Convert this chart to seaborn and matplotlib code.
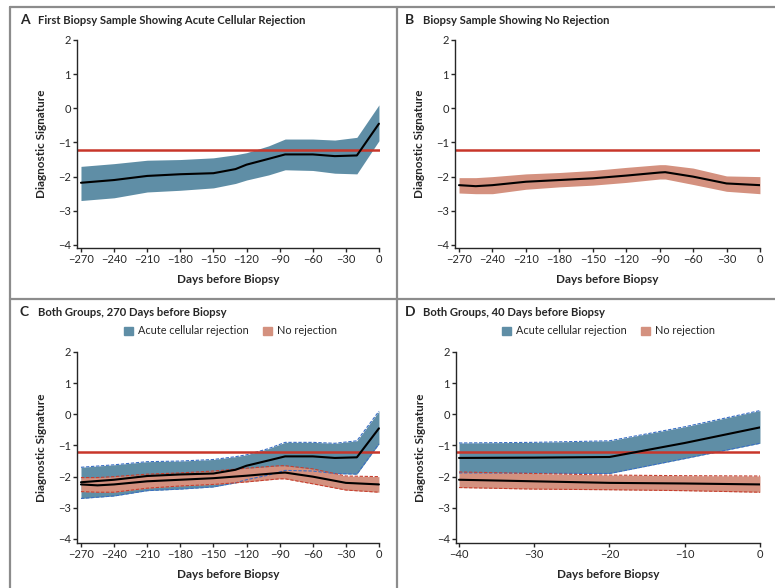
import matplotlib
matplotlib.use("Agg")
import matplotlib.pyplot as plt
from matplotlib.lines import Line2D
from matplotlib.patches import Patch
import seaborn as sns
import pandas as pd

# --- data ---
THRESHOLD = -1.22

# A: acute cellular rejection, 270 days
acr_days = [-270, -240, -210, -180, -150, -130, -120, -100, -85, -60, -40, -20, 0]
acr_mean = [-2.18, -2.10, -1.98, -1.93, -1.90, -1.78, -1.65, -1.48, -1.35, -1.35, -1.40, -1.38, -0.45]
acr_upper = [-1.70, -1.62, -1.52, -1.50, -1.45, -1.36, -1.30, -1.10, -0.90, -0.90, -0.93, -0.85, 0.10]
acr_lower = [-2.70, -2.62, -2.45, -2.40, -2.33, -2.20, -2.10, -1.95, -1.80, -1.82, -1.90, -1.92, -0.95]

# B: no rejection, 270 days
nr_days = [-270, -255, -240, -210, -180, -150, -120, -90, -85, -60, -30, 0]
nr_mean = [-2.25, -2.28, -2.25, -2.15, -2.10, -2.05, -1.97, -1.88, -1.87, -2.00, -2.20, -2.25]
nr_upper = [-2.03, -2.03, -2.00, -1.92, -1.88, -1.82, -1.73, -1.65, -1.65, -1.75, -1.98, -2.00]
nr_lower = [-2.48, -2.50, -2.50, -2.37, -2.30, -2.25, -2.17, -2.07, -2.07, -2.23, -2.43, -2.50]

# D: both groups, 40 days
d_days = [-40, -30, -20, -10, 0]
d_acr_mean = [-1.40, -1.39, -1.37, -0.92, -0.42]
d_acr_upper = [-0.92, -0.90, -0.85, -0.40, 0.12]
d_acr_lower = [-1.88, -1.89, -1.90, -1.42, -0.93]
d_nr_mean = [-2.10, -2.15, -2.20, -2.22, -2.25]
d_nr_upper = [-1.85, -1.90, -1.95, -1.97, -1.98]
d_nr_lower = [-2.35, -2.40, -2.42, -2.45, -2.50]

xticks_270 = [-270, -240, -210, -180, -150, -120, -90, -60, -30, 0]
xticks_40 = [-40, -30, -20, -10, 0]
yticks = [2, 1, 0, -1, -2, -3, -4]

BLUE = "#5f8ea6"
SALMON = "#d4917f"
RED = "#c8362a"
FONT = ["Lato", "DejaVu Sans"]

sns.set_theme(style="ticks")
plt.rcParams["font.family"] = FONT

fig = plt.figure(figsize=(7.75, 5.88), dpi=100)
W, H = 775, 588


def px_axes(left, right, top, bottom):
    return fig.add_axes([left / W, 1 - bottom / H, (right - left) / W, (bottom - top) / H])


def band(ax, days, mean, upper, lower, color, edge=None):
    ax.fill_between(days, lower, upper, color=color, lw=0, zorder=1)
    if edge is not None:
        ax.plot(days, upper, color=edge, lw=0.8, ls=(0, (3, 1.5)), zorder=1.5)
        ax.plot(days, lower, color=edge, lw=0.8, ls=(0, (3, 1.5)), zorder=1.5)


def line(ax, days, mean):
    df = pd.DataFrame({"day": days, "sig": mean})
    sns.lineplot(data=df, x="day", y="sig", ax=ax, color="black", lw=1.5, zorder=3)


def style(ax, xticks, xlim, ylim):
    ax.axhline(THRESHOLD, color=RED, lw=1.8, zorder=2.5)
    ax.set_xlim(*xlim)
    ax.set_ylim(*ylim)
    ax.set_xticks(xticks)
    ax.set_yticks(yticks)
    sns.despine(ax=ax)
    ax.spines["left"].set_bounds(ylim[0], 2)
    ax.spines["bottom"].set_bounds(xlim[0], 0)
    for s in ax.spines.values():
        s.set_linewidth(1.0)
    ax.tick_params(length=3, width=1, pad=1.5, labelsize=8)
    ax.set_xlabel("Days before Biopsy", fontsize=8.5, fontweight="bold", labelpad=6)
    ax.set_ylabel("Diagnostic Signature", fontsize=8.5, fontweight="bold", labelpad=8)


def title(x, y, letter, text):
    fig.text(x / W, 1 - y / H, letter, fontsize=10, fontweight="bold", va="center")
    fig.text((x + 18) / W, 1 - y / H, text, fontsize=8.1, fontweight="bold", va="center")


def legend(x, y):
    handles = [Patch(color=BLUE, label="Acute cellular rejection"),
               Patch(color=SALMON, label="No rejection")]
    fig.legend(handles=handles, loc="center left", bbox_to_anchor=(x / W, 1 - y / H),
               ncol=2, frameon=False, fontsize=7.8, handlelength=0.8, handleheight=0.8,
               handletextpad=0.5, columnspacing=1.3, borderaxespad=0, borderpad=0)


# A
axA = px_axes(77, 379.5, 40, 248)
band(axA, acr_days, acr_mean, acr_upper, acr_lower, BLUE)
line(axA, acr_days, acr_mean)
style(axA, xticks_270, (-273.6, 0.5), (-4.09, 2))
title(20, 20, "A", "First Biopsy Sample Showing Acute Cellular Rejection")

# B
axB = px_axes(455, 760.5, 40, 248)
band(axB, nr_days, nr_mean, nr_upper, nr_lower, SALMON)
line(axB, nr_days, nr_mean)
style(axB, xticks_270, (-273.6, 0.5), (-4.09, 2))
title(405, 20, "B", "Biopsy Sample Showing No Rejection")

# C
axC = px_axes(77, 379.5, 352, 543)
band(axC, acr_days, acr_mean, acr_upper, acr_lower, BLUE, edge="#3a6fc4")
band(axC, nr_days, nr_mean, nr_upper, nr_lower, SALMON, edge="#c84030")
line(axC, acr_days, acr_mean)
line(axC, nr_days, nr_mean)
style(axC, xticks_270, (-273.6, 0.5), (-4.13, 2))
title(20, 312, "C", "Both Groups, 270 Days before Biopsy")
legend(124, 331)

# D
axD = px_axes(456, 760.5, 352, 543)
band(axD, d_days, d_acr_mean, d_acr_upper, d_acr_lower, BLUE, edge="#3a6fc4")
band(axD, d_days, d_nr_mean, d_nr_upper, d_nr_lower, SALMON, edge="#c84030")
line(axD, d_days, d_acr_mean)
line(axD, d_days, d_nr_mean)
style(axD, xticks_40, (-40.4, 0.07), (-4.13, 2))
title(405, 312, "D", "Both Groups, 40 Days before Biopsy")
legend(502, 331)

# panel frame lines
frame = dict(color="#8c8c8c", lw=1.6, transform=fig.transFigure)
fig.add_artist(Line2D([10 / W, 1], [1 - 7 / H, 1 - 7 / H], **frame))
fig.add_artist(Line2D([10 / W, 10 / W], [1 - 7 / H, 0], **frame))
fig.add_artist(Line2D([397 / W, 397 / W], [1 - 7 / H, 0], **frame))
fig.add_artist(Line2D([10 / W, 1], [1 - 299 / H, 1 - 299 / H], **frame))

fig.savefig("out.png", dpi=100)
